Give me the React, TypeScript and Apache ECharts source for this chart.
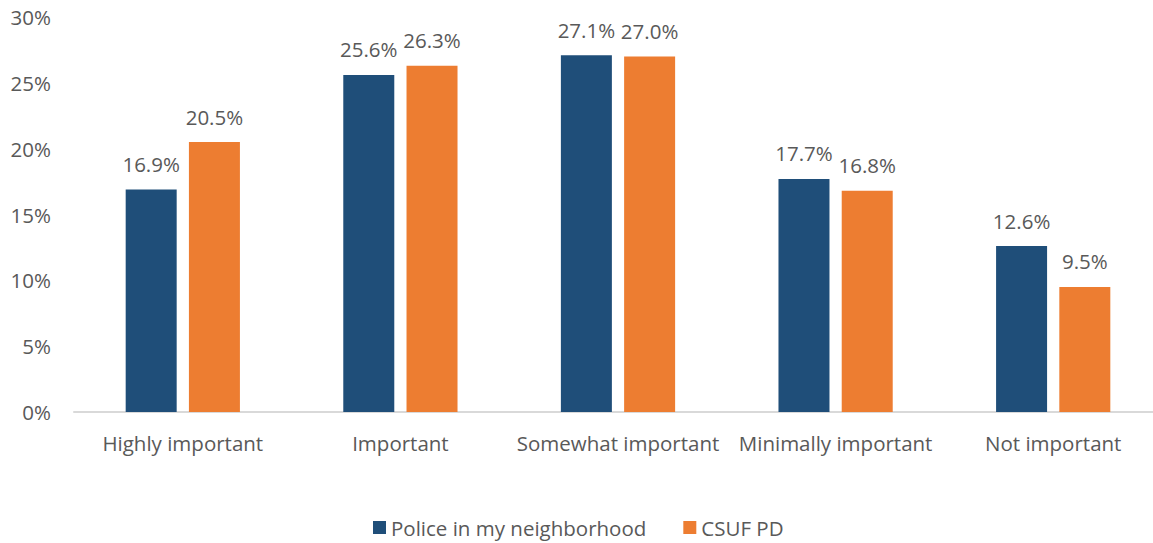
import React, { useEffect, useRef } from "react";
import * as echarts from "echarts";

const categories = ["Highly important", "Important", "Somewhat important", "Minimally important", "Not important"];
const policeNeighborhood = [16.9, 25.6, 27.1, 17.7, 12.6];
const csufPD = [20.5, 26.3, 27.0, 16.8, 9.5];
const seriesNames = ["Police in my neighborhood", "CSUF PD"];

const FONT = "Open Sans";
const TEXT = "#595959";
const FS = 20.5;

export default function App() {
  const ref = useRef<HTMLDivElement>(null);
  useEffect(() => {
    const chart = echarts.init(ref.current!, null, { renderer: "svg" });
    const label = {
      show: true,
      position: "top",
      distance: 15,
      color: TEXT,
      fontFamily: FONT,
      fontSize: FS,
      formatter: (p: any) => p.value.toFixed(1) + "%",
    };
    chart.setOption({
      animation: false,
      textStyle: { fontFamily: FONT },
      grid: { left: 74, top: 17, width: 1088, bottom: 131, containLabel: false },
      legend: {
        bottom: 0,
        left: 368,
        itemWidth: 13,
        itemHeight: 13,
        itemGap: 37,
        icon: "rect",
        textStyle: { color: TEXT, fontFamily: FONT, fontSize: FS },
        data: seriesNames,
      },
      xAxis: {
        type: "category",
        data: categories,
        axisLine: { lineStyle: { color: "#D9D9D9", width: 2 } },
        axisTick: { show: false },
        axisLabel: { color: TEXT, fontFamily: FONT, fontSize: FS, margin: 20, interval: 0 },
      },
      yAxis: {
        type: "value",
        min: 0,
        max: 30,
        interval: 5,
        splitLine: { show: false },
        axisLine: { show: false },
        axisTick: { show: false },
        axisLabel: { color: TEXT, fontFamily: FONT, fontSize: FS, margin: 23, formatter: "{value}%" },
      },
      series: [
        {
          name: seriesNames[0],
          type: "bar",
          data: policeNeighborhood,
          barWidth: 51,
          barGap: "24%",
          itemStyle: { color: "#1F4E79" },
          label,
        },
        {
          name: seriesNames[1],
          type: "bar",
          data: csufPD,
          barWidth: 51,
          itemStyle: { color: "#ED7D31" },
          label,
        },
      ],
    });
    return () => chart.dispose();
  }, []);
  return (
    <div style={{ position: "absolute", left: 0, top: 0, width: 1153, height: 543, overflow: "hidden" }}>
      <div ref={ref} style={{ position: "absolute", left: 0, top: 0, width: 1170, height: 543 }} />
    </div>
  );
}
